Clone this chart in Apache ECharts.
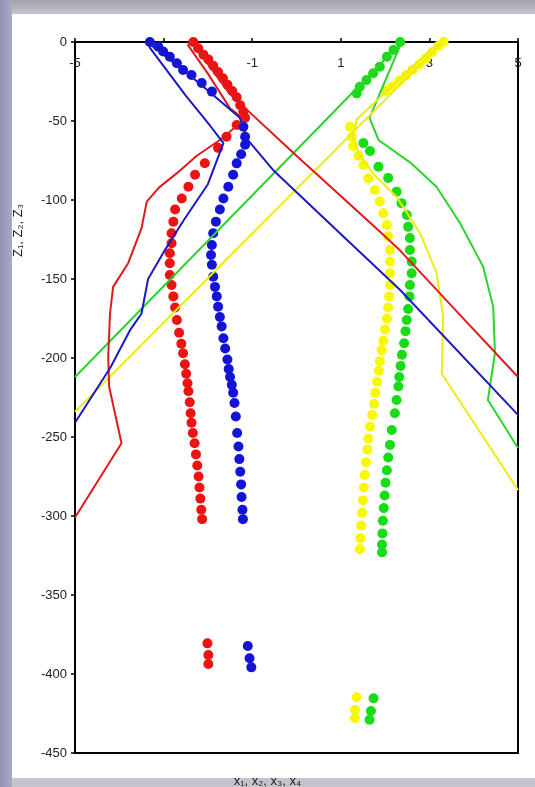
<!DOCTYPE html>
<html>
<head>
<meta charset="utf-8">
<script src="https://cdn.jsdelivr.net/npm/echarts@6/dist/echarts.min.js"></script>
<style>
  html, body { margin: 0; padding: 0; }
  body { width: 535px; height: 787px; position: relative; overflow: hidden;
         background: linear-gradient(to bottom, #a2a3aa 0px, #c4c5cc 14px, #c4c5cc 100%); }
  #band { position: absolute; left: 0; top: 0; width: 12px; height: 787px;
          background: linear-gradient(to right, #8e93b3, #a7abc6); }
  #panel { position: absolute; left: 12px; top: 14px; width: 523px; height: 764px; background: #ffffff; }
  #chart { position: absolute; left: 0; top: 0; width: 535px; height: 787px; }
</style>
</head>
<body>
<div id="band"></div>
<div id="panel"></div>
<div id="chart"></div>
<script>
// Axis ticks (the -3 label sits under the profiles and is left blank)
const xTicks = [-5, -3, -1, 1, 3, 5];
const xHiddenLabels = [-3];
const yTicks = [0, -50, -100, -150, -200, -250, -300, -350, -400, -450];

// Measured profiles (dots): [x, z]
const redDots = [
  [-2.33,0],[-2.22,-4],[-2.10,-8],[-1.99,-11],[-1.88,-15],[-1.77,-19],[-1.66,-23],[-1.56,-27],
  [-1.45,-31],[-1.35,-35],[-1.27,-40],[-1.20,-44],[-1.16,-48],
  [-1.35,-52.5],[-1.58,-60],[-1.77,-67],[-2.07,-76.7],[-2.29,-84],[-2.44,-91.6],[-2.59,-99],
  [-2.74,-106],[-2.78,-113.7],[-2.82,-121],[-2.82,-127.4],[-2.86,-133.7],[-2.86,-140],[-2.86,-147.5],
  [-2.82,-153.8],[-2.78,-161],[-2.74,-168],[-2.70,-176],[-2.65,-184],[-2.60,-191],[-2.56,-197],
  [-2.52,-204],[-2.49,-210],[-2.46,-216],[-2.44,-221],[-2.41,-228],[-2.39,-235],[-2.37,-241],
  [-2.34,-247.5],[-2.30,-254],[-2.27,-261],[-2.24,-268],[-2.21,-275],[-2.19,-282],[-2.17,-289],
  [-2.15,-296],[-2.13,-302],
  [-2.01,-380.6],[-1.99,-388],[-1.99,-393.7]
];
const blueDots = [
  [-3.31,0],[-3.12,-3],[-3.01,-6],[-2.86,-9.3],[-2.70,-13.5],[-2.56,-17.7],[-2.37,-20.9],
  [-2.14,-26],[-1.91,-31.4],
  [-1.20,-53.6],[-1.16,-60],[-1.16,-65],[-1.25,-71],[-1.35,-76.8],[-1.43,-84],[-1.54,-91.6],
  [-1.65,-99],[-1.73,-106],[-1.82,-113.7],[-1.88,-121],[-1.91,-128.5],[-1.93,-134.8],[-1.91,-141],
  [-1.88,-148.5],[-1.84,-155],[-1.80,-161],[-1.77,-167.5],[-1.73,-174],[-1.69,-180],[-1.65,-187.5],
  [-1.61,-194],[-1.56,-201],[-1.53,-207],[-1.50,-212],[-1.46,-217],[-1.43,-222],[-1.40,-228.5],
  [-1.37,-237],[-1.34,-247.5],[-1.31,-256],[-1.29,-264],[-1.27,-272],[-1.25,-280],[-1.24,-288],
  [-1.22,-296],[-1.21,-302],
  [-1.10,-382.3],[-1.06,-390],[-1.02,-395.8]
];
const greenDots = [
  [2.34,0],[2.19,-5],[2.04,-9.3],[1.88,-15.6],[1.73,-19.8],[1.58,-24],[1.43,-28.3],[1.36,-32.5],
  [1.51,-64],[1.66,-69],[1.85,-79],[2.07,-86],[2.26,-94.7],[2.37,-102],[2.49,-109.5],[2.52,-117],
  [2.56,-124],[2.56,-131.6],[2.60,-139],[2.60,-146.4],[2.56,-153.8],[2.55,-161],[2.52,-169],
  [2.49,-176],[2.46,-183],[2.43,-190.7],[2.38,-198],[2.35,-205],[2.32,-212],[2.30,-218],
  [2.26,-226.6],[2.22,-235],[2.15,-245.6],[2.11,-255],[2.07,-263],[2.04,-271],[2.01,-279],
  [1.99,-287],[1.97,-295],[1.95,-303],[1.94,-311],[1.93,-318],[1.93,-323],
  [1.74,-415.4],[1.68,-423.4],[1.65,-429]
];
const yellowDots = [
  [3.32,0],[3.20,-2.5],[3.06,-6.5],[2.92,-10.5],[2.78,-14],[2.62,-17.5],[2.47,-21],[2.32,-24.5],
  [2.17,-28],[2.02,-31],
  [1.21,-53.6],[1.25,-60],[1.28,-66],[1.40,-72],[1.51,-77.8],[1.62,-86.3],[1.77,-93.7],[1.88,-101],
  [1.96,-108.4],[2.04,-115.8],[2.07,-123],[2.11,-131.6],[2.11,-139],[2.11,-146.4],[2.11,-153.8],
  [2.09,-161],[2.07,-168],[2.04,-175],[2.00,-182],[1.96,-189],[1.92,-195],[1.88,-202],[1.86,-208],
  [1.82,-215],[1.78,-222],[1.75,-229],[1.71,-236],[1.66,-243.5],[1.62,-251],[1.60,-258],[1.57,-266],
  [1.54,-274],[1.52,-282],[1.50,-290],[1.48,-298],[1.46,-306],[1.44,-314],[1.43,-321],
  [1.36,-414.7],[1.32,-422.8],[1.32,-428]
];

// Model curves (lines): [x, z] in drawing order
const redLine = [
  [5,-212],[3.5,-167],[2.34,-132],[1.88,-120],[0,-72],[-1.5,-33],[-2.0,-14],[-2.38,0],
  [-2.45,-2],[-2.0,-20],[-1.5,-42],[-1.18,-49],[-1.73,-62],[-2.25,-72],[-2.7,-83],[-3.1,-92],
  [-3.38,-101],[-3.5,-118],[-3.8,-140],[-4.14,-155],[-4.21,-172],[-4.25,-199],[-4.23,-218],
  [-3.95,-254],[-5,-301]
];
const blueLine = [
  [5,-236],[2.34,-157],[1.13,-125],[-0.53,-81],[-1.1,-62],[-1.2,-54],[-1.28,-48],[-2.2,-26],
  [-3.0,-8],[-3.38,0],[-3.3,-4],[-2.5,-34],[-1.95,-53],[-1.65,-64],[-2.0,-90],[-2.55,-113],
  [-3.0,-133],[-3.35,-150],[-3.5,-172],[-3.75,-182],[-4.2,-206],[-5,-241]
];
const greenLine = [
  [5,-257],[4.32,-226.6],[4.48,-197],[4.44,-167.5],[4.21,-142],[3.69,-114.6],[3.16,-91.6],
  [2.6,-77],[2.2,-69],[1.85,-62],[1.65,-48],[1.95,-28],[2.3,-5],[2.38,0],[-5,-212]
];
const yellowLine = [
  [5,-283.5],[3.28,-210],[3.31,-174],[3.16,-146],[2.79,-121],[2.26,-98],[1.75,-84],[1.4,-70],
  [1.28,-60],[1.36,-49],[2.0,-32],[3.02,-5],[3.3,0],[-5,-234]
];

const colors = { red: '#ee1313', blue: '#1414d8', green: '#18dc18', yellow: '#f8f800' };
const lineColors = { red: '#e01a1a', blue: '#1a1ac4', green: '#2ad42a', yellow: '#ecec10' };

const chart = echarts.init(document.getElementById('chart'), null, { renderer: 'canvas' });

function dotSeries(data, c) {
  return { type: 'scatter', data: data, symbol: 'circle', symbolSize: 10, z: 2,
           itemStyle: { color: c, opacity: 1 }, silent: true };
}
function lineSeries(data, c) {
  return { type: 'line', data: data, showSymbol: false, symbol: 'none', z: 3,
           lineStyle: { color: c, width: 2 }, silent: true };
}

const font = 'Liberation Sans, Arial, DejaVu Sans, sans-serif';

chart.setOption({
  animation: false,
  backgroundColor: 'transparent',
  grid: { left: 75, right: 17, top: 42, bottom: 34, show: true,
          borderColor: '#000', borderWidth: 2, backgroundColor: 'transparent' },
  xAxis: {
    type: 'value', min: xTicks[0], max: xTicks[xTicks.length - 1], interval: 2,
    position: 'top',
    axisLine: { show: true, onZero: false, lineStyle: { color: '#000', width: 2 } },
    axisTick: { show: true, inside: false, length: 4, lineStyle: { color: '#000', width: 1.5 } },
    axisLabel: { inside: true, margin: 15, color: '#222', fontSize: 13, fontFamily: font,
                 showMinLabel: true, showMaxLabel: true,
                 formatter: v => (xHiddenLabels.indexOf(v) >= 0 ? '' : String(v)) },
    splitLine: { show: false }
  },
  yAxis: {
    type: 'value', min: yTicks[yTicks.length - 1], max: yTicks[0], interval: 50,
    axisLine: { show: true, onZero: false, lineStyle: { color: '#000', width: 2 } },
    axisTick: { show: true, inside: false, length: 4, lineStyle: { color: '#000', width: 1.5 } },
    axisLabel: { margin: 8, color: '#222', fontSize: 13, fontFamily: font },
    splitLine: { show: false }
  },
  graphic: [
    { type: 'text', left: 'center', x: 0, top: 775, z: 10,
      style: { text: 'x\u2081, x\u2082, x\u2083, x\u2084', fill: '#222', font: '13px ' + font } },
    { type: 'text', x: 12, y: 257, rotation: Math.PI / 2, z: 10,
      style: { text: 'Z\u2081, Z\u2082, Z\u2083', fill: '#222', font: '13px ' + font } }
  ],
  series: [
    dotSeries(redDots, colors.red),
    dotSeries(blueDots, colors.blue),
    dotSeries(greenDots, colors.green),
    dotSeries(yellowDots, colors.yellow),
    lineSeries(greenLine, lineColors.green),
    lineSeries(yellowLine, lineColors.yellow),
    lineSeries(redLine, lineColors.red),
    lineSeries(blueLine, lineColors.blue)
  ]
});
</script>
</body>
</html>
